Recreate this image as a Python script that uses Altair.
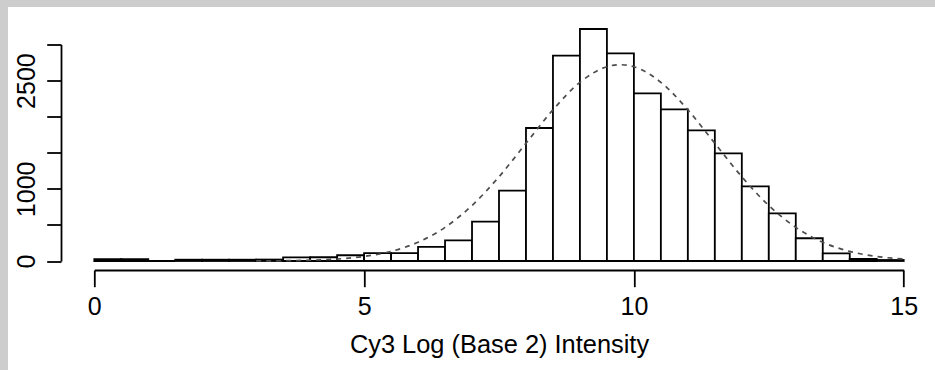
import altair as alt
import pandas as pd

# ---- data ----
bin_starts = [0.0, 0.5, 1.0, 1.5, 2.0, 2.5, 3.0, 3.5, 4.0, 4.5,
              5.0, 5.5, 6.0, 6.5, 7.0, 7.5, 8.0, 8.5, 9.0, 9.5,
              10.0, 10.5, 11.0, 11.5, 12.0, 12.5, 13.0, 13.5, 14.0, 14.5]
bin_width = 0.5
counts = [25, 25, 0, 18, 18, 18, 20, 50, 52, 80,
          110, 110, 196, 287, 545, 974, 1843, 2845, 3215, 2878,
          2323, 2102, 1811, 1492, 1035, 661, 315, 107, 28, 14]

curve_x = [3.0, 3.5, 4.0, 4.5, 5.0, 5.5, 6.0, 6.5, 7.0, 7.5, 8.0, 8.5, 9.0, 9.5,
           9.75, 10.0, 10.5, 11.0, 11.5, 12.0, 12.5, 13.0, 13.5, 14.0, 14.5, 15.0]
curve_y = [1, 4, 11, 27, 63, 133, 260, 466, 769, 1167, 1631, 2095, 2476, 2692,
           2720, 2692, 2476, 2095, 1631, 1167, 769, 466, 260, 133, 63, 27]

x_ticks = [0, 5, 10, 15]
y_ticks = [0, 500, 1000, 1500, 2000, 2500, 3000]
y_labels_shown = [0, 1000, 2500]
x_title = "Cy3 Log (Base 2) Intensity"

# ---- layout ----
W, H = 809.4, 216.5
PAD = {"left": 94.3, "top": 44.5, "right": 31.3, "bottom": 109}
FONT = "Liberation Sans"

hist = pd.DataFrame({
    "x": bin_starts,
    "x_end": [b + bin_width for b in bin_starts],
    "y": counts,
    "base": [0] * len(counts),
})
curve = pd.DataFrame({"x": curve_x, "y": curve_y})

xscale = alt.Scale(domain=[0, 15], nice=False, zero=False)
yscale = alt.Scale(domain=[0, 3000], nice=False)

x_axis = alt.Axis(values=x_ticks, offset=9, tickSize=16.7, labelPadding=8,
                  labelFlush=False, format="d", titlePadding=13, zindex=2)
label_test = " || ".join(f"datum.value == {v}" for v in y_labels_shown)
y_axis = alt.Axis(values=y_ticks, offset=33.3, tickSize=14.3, labelAngle=270,
                  labelAlign="center", labelBaseline="alphabetic",
                  labelPadding=12.5, labelFlush=False, labelOverlap=False,
                  labelExpr=f"({label_test}) ? datum.label : ''", format="d",
                  zindex=2)

panel = alt.Chart(pd.DataFrame({"a": [0]})).mark_rect(fill="white").encode(
    x=alt.value(8 - PAD["left"]),
    x2=alt.value(W + PAD["right"]),
    y=alt.value(7 - PAD["top"]),
    y2=alt.value(H + PAD["bottom"]),
)

bars = alt.Chart(hist).mark_rect(fill="white", stroke="black", strokeWidth=1.8).encode(
    x=alt.X("x:Q", scale=xscale, axis=x_axis, title=x_title),
    x2="x_end:Q",
    y=alt.Y("y:Q", scale=yscale, axis=y_axis, title=None),
    y2="base:Q",
)

line = alt.Chart(curve).mark_line(
    color="#4d4d4d", strokeWidth=1.7, strokeDash=[5, 5], interpolate="monotone"
).encode(
    x=alt.X("x:Q", scale=xscale, axis=x_axis, title=x_title),
    y=alt.Y("y:Q", scale=yscale, axis=y_axis, title=None),
)

chart = alt.layer(panel, bars, line).properties(
    width=W, height=H, autosize="none", padding=PAD, background="#cdcdcd"
).configure_axis(
    grid=False,
    labelFont=FONT, titleFont=FONT,
    labelFontSize=25, titleFontSize=25.4,
    labelColor="black", titleColor="black",
    titleFontWeight="normal",
    domainColor="black", tickColor="black",
    domainWidth=1.8, tickWidth=1.8,
).configure_view(stroke=None)

chart.save("out.html", embed_options={"renderer": "svg", "actions": False})
